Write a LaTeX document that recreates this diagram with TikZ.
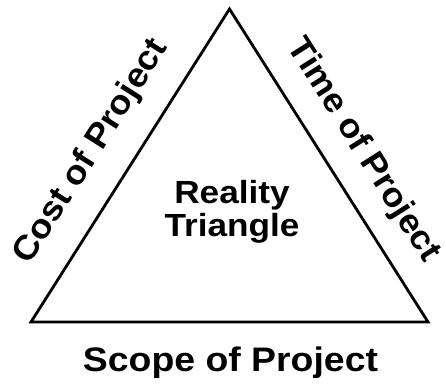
\documentclass[tikz,border=0pt]{standalone}
\usepackage{fontspec}
\setmainfont{Liberation Sans}
\begin{document}
\begin{tikzpicture}[x=1pt,y=1pt,
  lbl/.style={font=\fontsize{34}{36}\selectfont\bfseries, inner sep=0pt},
  mid/.style={font=\fontsize{32}{33}\selectfont\bfseries, inner sep=0pt},
  side/.style={line width=2.8pt, line join=miter}]
\useasboundingbox (0,0) rectangle (446,383);
\coordinate (A) at (229.5,374);
\coordinate (B) at (31,61);
\coordinate (C) at (428,61);
\draw[side] (A) -- (B) -- (C) -- cycle;
\path (B) -- (A) node[lbl, xscale=1.07, pos=0.475, sloped, above=24pt] (cost) {Cost of Project};
\path (A) -- (C) node[lbl, xscale=1.05, pos=0.515, sloped, above=21pt] (time) {Time of Project};
\node[mid, xscale=1.1, align=center] (real) at (232,171) {Reality\\Triangle};
\node[lbl, xscale=1.1] (scope) at (230.5,20) {Scope of Project};
\end{tikzpicture}
\end{document}
